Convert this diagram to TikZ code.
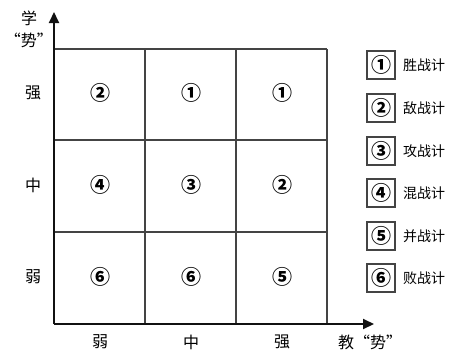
\documentclass[tikz,border=0pt]{standalone}
\usepackage{fontspec}
\newfontfamily\cjk{Noto Sans CJK SC}
\usetikzlibrary{arrows.meta}
\definecolor{axisBlack}{HTML}{111111}
\definecolor{gridGray}{HTML}{444444}
\tikzset{
    axisline/.style={draw=axisBlack,line width=2pt,-{Triangle[length=11pt,width=10pt]}},
    gridline/.style={draw=gridGray,line width=1.1pt},
    cell/.style={font=\cjk\bfseries\fontsize{20}{22}\selectfont,inner sep=0pt},
    axislabel/.style={font=\cjk\fontsize{16}{19}\selectfont,inner sep=0pt},
    keybox/.style={draw=gridGray,line width=1.1pt,minimum width=28pt,minimum height=28pt,
        inner sep=0pt,font=\cjk\bfseries\fontsize{20}{22}\selectfont},
    keytext/.style={anchor=west,inner sep=0pt,font=\cjk\fontsize{14}{17}\selectfont}
}
\begin{document}
\begin{tikzpicture}[x=1pt,y=-1pt]
    \useasboundingbox (0,0) rectangle (457,351);

    % axes
    \coordinate (o) at (54,324);
    \coordinate (xend) at (374,324);
    \coordinate (yend) at (54,12);

    % grid
    \foreach \x in {145,236,327}
        \draw[gridline] (\x,49) -- (\x,324);
    \foreach \y in {49,140,232}
        \draw[gridline] (54,\y) -- (327,\y);

    \draw[axisline] (o) -- (xend);
    \draw[axisline] (o) -- (yend);

    % cells
    \node[cell] (c11) at (100,93) {②};
    \node[cell] (c12) at (191,93) {①};
    \node[cell] (c13) at (282,93) {①};
    \node[cell] (c21) at (100,185) {④};
    \node[cell] (c22) at (191,185) {③};
    \node[cell] (c23) at (282,185) {②};
    \node[cell] (c31) at (100,277) {⑥};
    \node[cell] (c32) at (191,277) {⑥};
    \node[cell] (c33) at (282,277) {⑤};

    % axis labels
    \node[axislabel] (ytitle) at (29,18) {学};
    \node[axislabel] (yquote) at (29,40) {“势”};
    \node[axislabel] (ystrong) at (33,93) {强};
    \node[axislabel] (ymid) at (33,185) {中};
    \node[axislabel] (yweak) at (33,277) {弱};
    \node[axislabel] (xweak) at (100,342) {弱};
    \node[axislabel] (xmid) at (191,342) {中};
    \node[axislabel] (xstrong) at (282,342) {强};
    \node[axislabel] (xtitle) at (370,342) {教“势”};

    % key
    \node[keybox] (k1) at (381,65) {①};
    \node[keybox] (k2) at (381,108) {②};
    \node[keybox] (k3) at (381,151) {③};
    \node[keybox] (k4) at (381,193) {④};
    \node[keybox] (k5) at (381,236) {⑤};
    \node[keybox] (k6) at (381,278) {⑥};
    \node[keytext] (t1) at (403,65) {胜战计};
    \node[keytext] (t2) at (403,108) {敌战计};
    \node[keytext] (t3) at (403,151) {攻战计};
    \node[keytext] (t4) at (403,193) {混战计};
    \node[keytext] (t5) at (403,236) {并战计};
    \node[keytext] (t6) at (403,278) {败战计};
\end{tikzpicture}
\end{document}
